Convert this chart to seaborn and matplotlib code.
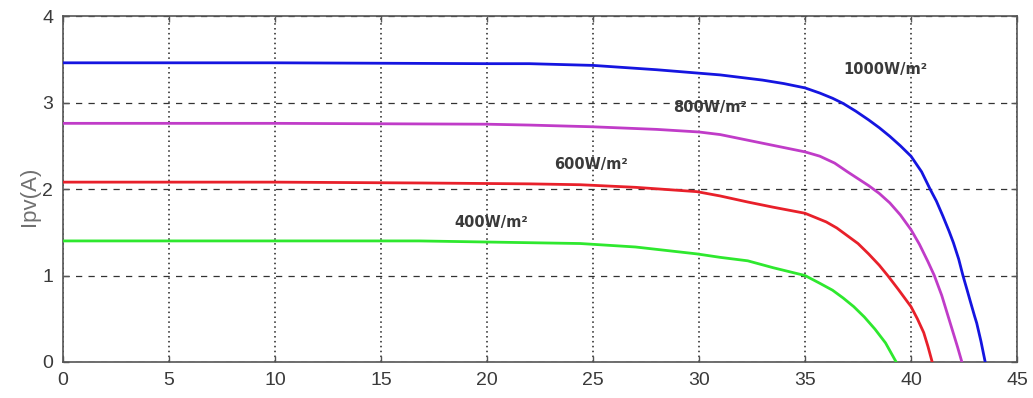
import matplotlib
matplotlib.use("Agg")
import matplotlib.pyplot as plt
import numpy as np
import pandas as pd
import seaborn as sns

# ---- data (voltage V, current A) ----
v_1000 = [0, 10, 20, 22, 25, 28, 30, 31, 32, 33, 34, 35, 35.7, 36.3, 36.8, 37.4, 38, 38.5, 39, 39.5,
          40, 40.5, 40.9, 41.2, 41.5, 41.8, 42, 42.25, 42.45, 42.65, 42.8, 43.0, 43.1, 43.3, 43.5]
i_1000 = [3.46, 3.46, 3.45, 3.45, 3.43, 3.38, 3.34, 3.32, 3.29, 3.26, 3.22, 3.17, 3.11, 3.05, 2.99, 2.90, 2.80, 2.71, 2.61, 2.50,
          2.38, 2.20, 2.00, 1.86, 1.69, 1.51, 1.38, 1.19, 1.00, 0.83, 0.70, 0.53, 0.45, 0.24, 0.0]

v_800 = [0, 10, 20, 22, 25, 28, 30, 31, 32, 33, 34, 35, 35.7, 36.4, 37, 37.5, 38, 38.5, 39, 39.5,
         40, 40.4, 40.8, 41.1, 41.45, 41.75, 42.0, 42.2, 42.4]
i_800 = [2.76, 2.76, 2.75, 2.74, 2.72, 2.69, 2.66, 2.63, 2.58, 2.53, 2.48, 2.43, 2.38, 2.30, 2.20, 2.12, 2.04, 1.95, 1.84, 1.70,
         1.53, 1.36, 1.16, 1.00, 0.77, 0.53, 0.33, 0.17, 0.0]

v_600 = [0, 10, 17, 22, 24.4, 27, 29.9, 31, 32.3, 33.5, 35, 35.5, 36, 36.5, 37, 37.5, 38, 38.5, 38.9,
         39.4, 40, 40.3, 40.6, 40.8, 41.0]
i_600 = [2.08, 2.08, 2.07, 2.06, 2.05, 2.02, 1.97, 1.92, 1.85, 1.79, 1.72, 1.67, 1.62, 1.55, 1.46, 1.37, 1.25, 1.12, 1.00,
         0.84, 0.64, 0.50, 0.34, 0.18, 0.0]

v_400 = [0, 10, 16.8, 24.4, 27, 29.9, 31, 32.3, 33.5, 35, 35.7, 36.3, 36.8, 37.3, 37.8, 38.3, 38.8, 39.3]
i_400 = [1.40, 1.40, 1.40, 1.37, 1.33, 1.25, 1.21, 1.17, 1.09, 1.00, 0.91, 0.83, 0.74, 0.64, 0.52, 0.38, 0.22, 0.0]

series_names = ["1000W/m²", "800W/m²", "600W/m²", "400W/m²"]
label_x = [38.8, 30.5, 24.9, 20.2]
label_y = [3.38, 2.94, 2.28, 1.61]
colors = ["#1515e0", "#c03cc8", "#e8202a", "#2ee82e"]

x_ticks = [0, 5, 10, 15, 20, 25, 30, 35, 40, 45]
y_ticks = [0, 1, 2, 3, 4]

frames = []
for name, v, i in zip(series_names, [v_1000, v_800, v_600, v_400],
                      [i_1000, i_800, i_600, i_400]):
    frames.append(pd.DataFrame({"V": v, "I": i, "G": name}))
df = pd.concat(frames, ignore_index=True)

sns.set_style("white")
plt.rcParams["font.family"] = ["Liberation Sans", "DejaVu Sans"]

fig = plt.figure(figsize=(10.33, 3.98), dpi=100)
ax = fig.add_axes([0.061, 0.0905, 0.9235, 0.869])

sns.lineplot(data=df, x="V", y="I", hue="G", hue_order=series_names,
             palette=colors, sort=False, estimator=None, linewidth=2.0,
             legend=False, ax=ax, zorder=3)

ax.set_xlim(0, 45)
ax.set_ylim(0, 4)
ax.set_xticks(x_ticks)
ax.set_yticks(y_ticks)
ax.set_xticklabels([str(t) for t in x_ticks])
ax.set_yticklabels([str(t) for t in y_ticks])

ax.xaxis.grid(True, linestyle=(0, (1, 2.2)), color="#222222", linewidth=1.1)
ax.yaxis.grid(True, linestyle=(0, (5, 5)), color="#333333", linewidth=0.9)
ax.set_axisbelow(True)

for s in ax.spines.values():
    s.set_color("#555555")
    s.set_linewidth(1.2)

ax.tick_params(axis="both", direction="in", length=4, width=1, color="#555555",
               labelsize=14, labelcolor="#3a3a3a", top=True, right=True,
               bottom=True, left=True)
ax.tick_params(axis="x", pad=7)
ax.tick_params(axis="y", pad=7)

ax.set_xlabel("")
ax.set_ylabel("Ipv(A)", fontsize=16, color="#707070")
ax.yaxis.set_label_coords(-0.024, 0.48)

for name, lx, ly in zip(series_names, label_x, label_y):
    ax.text(lx, ly, name, ha="center", va="center", fontsize=10.5,
            fontweight="bold", color="#3a3a3a", family=["DejaVu Sans"], zorder=4)

fig.savefig("out.png", dpi=100)
